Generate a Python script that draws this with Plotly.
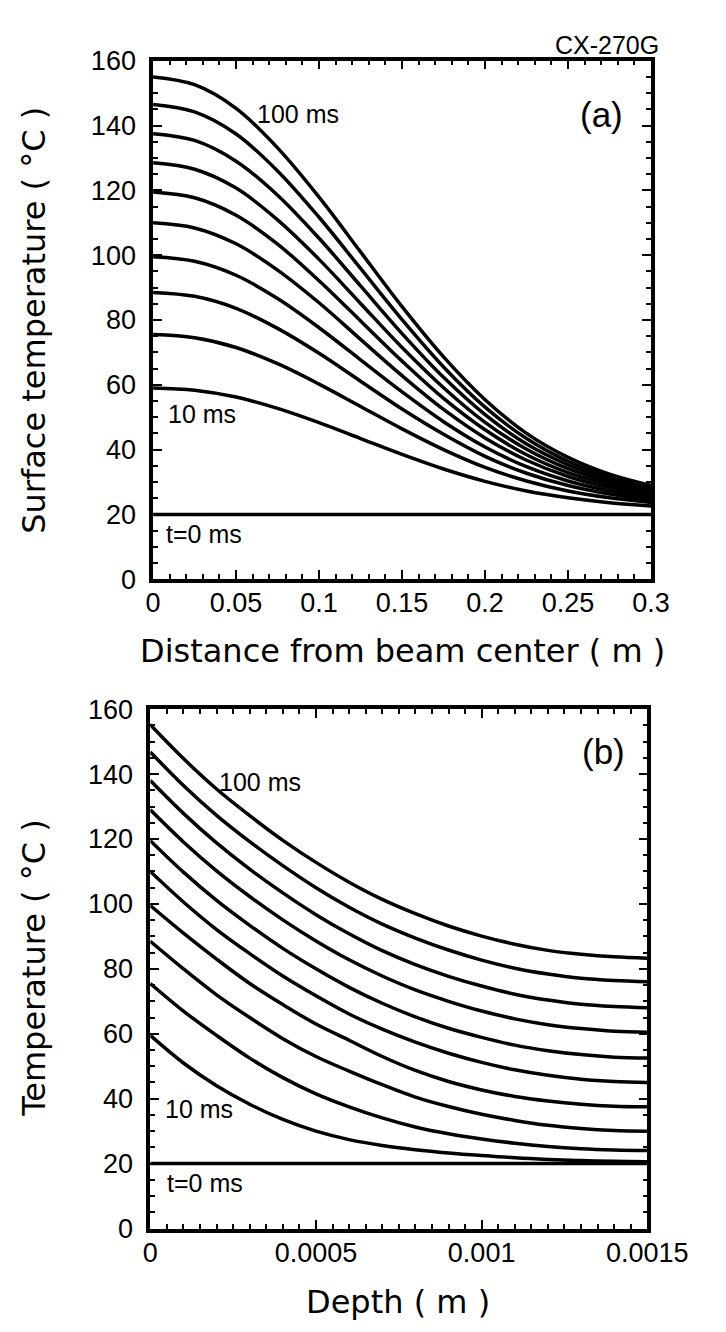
import plotly.graph_objects as go

# ---------------- data ----------------
radius_m = [0, 0.025, 0.05, 0.075, 0.1, 0.125, 0.15, 0.175, 0.2, 0.225, 0.25, 0.275, 0.3]

surf_0ms = [20, 20, 20, 20, 20, 20, 20, 20, 20, 20, 20, 20, 20]
surf_10ms = [59.0, 58.3, 56.2, 52.7, 48.3, 43.4, 38.5, 34.0, 30.2, 27.2, 25.1, 23.6, 22.6]
surf_20ms = [75.5, 74.5, 71.5, 66.5, 60.2, 53.3, 46.4, 40.0, 34.5, 30.3, 27.2, 25.1, 23.7]
surf_30ms = [88.5, 87.3, 83.6, 77.4, 69.7, 61.1, 52.5, 44.7, 37.9, 32.7, 28.9, 26.3, 24.5]
surf_40ms = [99.5, 98.1, 93.8, 86.6, 77.6, 67.7, 57.8, 48.6, 40.8, 34.7, 30.3, 27.3, 25.2]
surf_50ms = [110.0, 108.4, 103.5, 95.4, 85.3, 74.0, 62.8, 52.4, 43.6, 36.7, 31.7, 28.3, 25.9]
surf_60ms = [119.5, 117.7, 112.3, 103.4, 92.1, 79.7, 67.3, 55.8, 46.1, 38.4, 32.9, 29.2, 26.6]
surf_70ms = [128.5, 126.5, 120.7, 110.9, 98.7, 85.1, 71.5, 59.1, 48.4, 40.1, 34.1, 30.0, 27.2]
surf_80ms = [137.5, 135.4, 129.0, 118.5, 105.2, 90.5, 75.8, 62.3, 50.8, 41.7, 35.3, 30.8, 27.8]
surf_90ms = [146.5, 144.2, 137.4, 126.0, 111.7, 95.9, 80.1, 65.5, 53.1, 43.4, 36.4, 31.6, 28.3]
surf_100ms = [155.0, 152.6, 145.3, 133.1, 117.9, 101.0, 84.1, 68.6, 55.4, 45.0, 37.6, 32.4, 28.9]

depth_m = [0, 0.0001, 0.0002, 0.0003, 0.0004, 0.0005, 0.0006, 0.0007,
           0.0008, 0.0009, 0.001, 0.0011, 0.0012, 0.0013, 0.0014, 0.0015]

depth_0ms = [20] * 16
depth_10ms = [59.5, 51.0, 44.0, 38.3, 33.6, 30.0, 27.4, 25.6, 24.3, 23.3, 22.5, 21.8, 21.3, 20.95, 20.7, 20.6]
depth_20ms = [75.5, 67.0, 59.5, 52.5, 46.5, 41.5, 37.5, 34.1, 31.3, 29.2, 27.6, 26.3, 25.3, 24.6, 24.2, 24.0]
depth_30ms = [88.5, 80.0, 72.0, 65.0, 58.5, 53.0, 48.5, 44.3, 40.5, 37.6, 35.2, 33.3, 31.8, 30.8, 30.2, 30.0]
depth_40ms = [99.5, 91.0, 83.0, 75.5, 69.0, 63.0, 58.0, 53.0, 48.7, 45.3, 42.7, 40.7, 39.3, 38.3, 37.7, 37.5]
depth_50ms = [110.0, 100.6, 92.1, 84.7, 77.8, 71.7, 66.1, 61.4, 57.4, 54.0, 51.2, 48.9, 47.2, 46.0, 45.3, 45.0]
depth_60ms = [119.5, 109.8, 101.1, 93.4, 86.3, 80.0, 74.3, 69.4, 65.2, 61.7, 58.9, 56.5, 54.8, 53.6, 52.8, 52.5]
depth_70ms = [129.0, 119.1, 110.2, 102.3, 95.1, 88.6, 82.8, 77.8, 73.5, 70.0, 67.0, 64.6, 62.8, 61.6, 60.8, 60.5]
depth_80ms = [138.0, 127.9, 118.8, 110.7, 103.4, 96.7, 90.8, 85.6, 81.3, 77.7, 74.7, 72.2, 70.4, 69.1, 68.4, 68.0]
depth_90ms = [146.8, 136.5, 127.3, 119.2, 111.8, 105.0, 99.0, 93.8, 89.5, 85.8, 82.7, 80.2, 78.4, 77.1, 76.4, 76.0]
depth_100ms = [155.2, 144.8, 135.4, 127.2, 119.6, 112.8, 106.7, 101.4, 97.0, 93.2, 90.1, 87.6, 85.7, 84.5, 83.7, 83.3]

surface_curves = [surf_0ms, surf_10ms, surf_20ms, surf_30ms, surf_40ms, surf_50ms,
                  surf_60ms, surf_70ms, surf_80ms, surf_90ms, surf_100ms]
depth_curves = [depth_0ms, depth_10ms, depth_20ms, depth_30ms, depth_40ms, depth_50ms,
                depth_60ms, depth_70ms, depth_80ms, depth_90ms, depth_100ms]

x1_ticks = [0, 0.05, 0.1, 0.15, 0.2, 0.25, 0.3]
x1_ticktext = ["0", "0.05", "0.1", "0.15", "0.2", "0.25", "0.3"]
x2_ticks = [0, 0.0005, 0.001, 0.0015]
x2_ticktext = ["0", "0.0005", "0.001", "0.0015"]
y_ticks = [0, 20, 40, 60, 80, 100, 120, 140, 160]

# ---------------- figure ----------------
W, H = 726, 1332
fig = go.Figure()

line_style = dict(color="black", width=3.5, shape="spline", smoothing=1.0)
for ys in surface_curves:
    fig.add_trace(go.Scatter(x=radius_m, y=ys, mode="lines", line=line_style,
                             xaxis="x", yaxis="y", showlegend=False, hoverinfo="skip"))
for ys in depth_curves:
    fig.add_trace(go.Scatter(x=depth_m, y=ys, mode="lines", line=line_style,
                             xaxis="x2", yaxis="y2", showlegend=False, hoverinfo="skip"))

HELV = "Liberation Sans, Arial, Helvetica, sans-serif"
TICK_FONT = dict(family=HELV, size=27, color="black")
TITLE_FONT = dict(family="DejaVu Sans, sans-serif", size=32, color="black")
LABEL_FONT = dict(family=HELV, size=25, color="black")
PANEL_FONT = dict(family=HELV, size=35, color="black")


def axis(**kw):
    base = dict(showline=True, linecolor="black", linewidth=3.5, mirror="allticks",
                ticks="inside", ticklen=9, tickwidth=2, tickcolor="black",
                showgrid=False, zeroline=False, tickfont=TICK_FONT, fixedrange=True)
    base.update(kw)
    return base


def minor(step):
    return dict(tickmode="linear", tick0=0, dtick=step, ticks="inside",
                ticklen=5, tickwidth=2, tickcolor="black")


fig.update_layout(
    width=W, height=H,
    margin=dict(l=0, r=0, t=0, b=0),
    paper_bgcolor="white", plot_bgcolor="white",
    xaxis=axis(domain=[147 / W, 681 / W], anchor="y", range=[0, 0.3],
               tickmode="array", tickvals=x1_ticks, ticktext=x1_ticktext,
               ticklabelstandoff=-3, minor=minor(0.01)),
    yaxis=axis(domain=[1 - 569 / H, 1 - 38.6 / H], anchor="x", range=[0, 160],
               tickmode="array", tickvals=y_ticks, ticklabelstandoff=8,
               minor=minor(5)),
    xaxis2=axis(domain=[144 / W, 677 / W], anchor="y2", range=[0, 0.0015],
                tickmode="array", tickvals=x2_ticks, ticktext=x2_ticktext,
                ticklabelstandoff=-3, minor=minor(0.00005)),
    yaxis2=axis(domain=[1 - 1233.3 / H, 1 - 702 / H], anchor="x2", range=[0, 160],
                tickmode="array", tickvals=y_ticks, ticklabelstandoff=8,
                minor=minor(5)),
)

ann = []
# axis titles
ann.append(dict(text="Distance from beam center ( m )", x=414 / W, y=1 - 642 / H,
                xref="paper", yref="paper", showarrow=False, font=TITLE_FONT,
                xanchor="center", yanchor="middle"))
ann.append(dict(text="Surface temperature ( °C )", x=20 / W, y=1 - 304 / H,
                xref="paper", yref="paper", showarrow=False, font=TITLE_FONT,
                textangle=-90, xanchor="center", yanchor="middle"))
ann.append(dict(text="Depth ( m )", x=410 / W, y=1 - 1308 / H,
                xref="paper", yref="paper", showarrow=False, font=TITLE_FONT,
                xanchor="center", yanchor="middle"))
ann.append(dict(text="Temperature ( °C )", x=20 / W, y=1 - 967 / H,
                xref="paper", yref="paper", showarrow=False, font=TITLE_FONT,
                textangle=-90, xanchor="center", yanchor="middle"))
ann.append(dict(text="CX-270G", x=692 / W, y=1 - 22 / H, xref="paper", yref="paper",
                showarrow=False, xanchor="right", yanchor="middle",
                font=dict(family=HELV, size=25, color="black")))

# in-plot labels (top panel)
ann.append(dict(text="100 ms", x=0.0871, y=143.5, xref="x", yref="y", showarrow=False,
                font=LABEL_FONT, xanchor="center", yanchor="middle"))
ann.append(dict(text="10 ms", x=0.0292, y=51, xref="x", yref="y", showarrow=False,
                font=LABEL_FONT, xanchor="center", yanchor="middle"))
ann.append(dict(text="t=0 ms", x=0.0307, y=13.8, xref="x", yref="y", showarrow=False,
                font=LABEL_FONT, xanchor="center", yanchor="middle"))
ann.append(dict(text="(a)", x=0.27, y=143.5, xref="x", yref="y", showarrow=False,
                font=PANEL_FONT, xanchor="center", yanchor="middle"))
# in-plot labels (bottom panel)
ann.append(dict(text="100 ms", x=0.000332, y=137.7, xref="x2", yref="y2", showarrow=False,
                font=LABEL_FONT, xanchor="center", yanchor="middle"))
ann.append(dict(text="10 ms", x=0.000148, y=36.7, xref="x2", yref="y2", showarrow=False,
                font=LABEL_FONT, xanchor="center", yanchor="middle"))
ann.append(dict(text="t=0 ms", x=0.000166, y=14, xref="x2", yref="y2", showarrow=False,
                font=LABEL_FONT, xanchor="center", yanchor="middle"))
ann.append(dict(text="(b)", x=0.001368, y=147, xref="x2", yref="y2", showarrow=False,
                font=PANEL_FONT, xanchor="center", yanchor="middle"))

fig.update_layout(annotations=ann)

fig.write_html("out.html")
